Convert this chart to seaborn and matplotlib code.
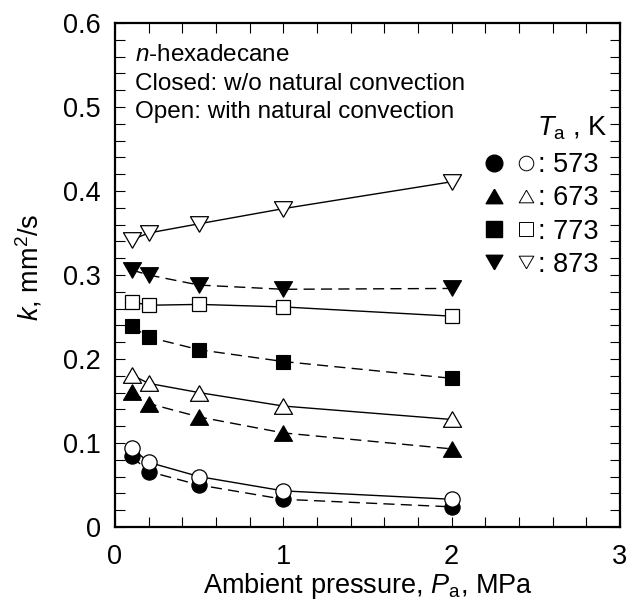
import matplotlib
matplotlib.use("Agg")
import matplotlib.pyplot as plt
import numpy as np
import pandas as pd
import seaborn as sns
from matplotlib.lines import Line2D
from matplotlib.legend_handler import HandlerTuple
from matplotlib.ticker import MultipleLocator

# ---- data ----
pressure = [0.1, 0.2, 0.5, 1.0, 2.0]          # MPa
temperatures = [573, 673, 773, 873]           # K
closed_573 = [0.084, 0.066, 0.050, 0.033, 0.024]
open_573 = [0.094, 0.077, 0.060, 0.043, 0.033]
closed_673 = [0.161, 0.147, 0.131, 0.112, 0.093]
open_673 = [0.181, 0.171, 0.160, 0.144, 0.128]
closed_773 = [0.239, 0.226, 0.211, 0.197, 0.177]
open_773 = [0.268, 0.264, 0.265, 0.262, 0.251]
closed_873 = [0.306, 0.300, 0.288, 0.283, 0.284]
open_873 = [0.342, 0.350, 0.361, 0.379, 0.411]

closed_series = [closed_573, closed_673, closed_773, closed_873]
open_series = [open_573, open_673, open_773, open_873]

x_ticks = [0, 1, 2, 3]
x_tick_labels = ["0", "1", "2", "3"]
y_ticks = [0, 0.1, 0.2, 0.3, 0.4, 0.5, 0.6]
y_tick_labels = ["0", "0.1", "0.2", "0.3", "0.4", "0.5", "0.6"]

rows = []
for T, yc, yo in zip(temperatures, closed_series, open_series):
    for p, a, b in zip(pressure, yc, yo):
        rows.append({"P": p, "k": a, "T": T, "cond": "closed"})
        rows.append({"P": p, "k": b, "T": T, "cond": "open"})
df = pd.DataFrame(rows)

# ---- style ----
sns.set_style("ticks")
plt.rcParams["font.family"] = ["Liberation Sans", "DejaVu Sans"]
plt.rcParams["mathtext.fontset"] = "custom"
plt.rcParams["mathtext.rm"] = "Liberation Sans"
plt.rcParams["mathtext.it"] = "Liberation Sans:italic"
plt.rcParams["mathtext.bf"] = "Liberation Sans:bold"
for key in ["text.color", "axes.labelcolor", "xtick.color", "ytick.color", "axes.edgecolor"]:
    plt.rcParams[key] = "black"

FS = 19.5

tri_up = [(0, 0.433), (-0.5, -0.433), (0.5, -0.433), (0, 0.433)]
tri_dn = [(0, -0.433), (-0.5, 0.433), (0.5, 0.433), (0, -0.433)]
markers = {573: "o", 673: tri_up, 773: "s", 873: tri_dn}
msizes = {573: 11, 673: 13, 773: 10.3, 873: 13}

fig = plt.figure(figsize=(6.37, 6.04), dpi=100)
ax = fig.add_axes([115 / 637, 77 / 604, 505 / 637, 504 / 604])

# lines
for T in temperatures:
    sub_c = df[(df["T"] == T) & (df["cond"] == "closed")]
    sub_o = df[(df["T"] == T) & (df["cond"] == "open")]
    sns.lineplot(data=sub_c, x="P", y="k", ax=ax, color="black", lw=1.0,
                 linestyle=(0, (8, 4.5)), zorder=2, legend=False)
    sns.lineplot(data=sub_o, x="P", y="k", ax=ax, color="black", lw=1.0,
                 zorder=2, legend=False)

# markers: filled (closed) below, open on top
for T in temperatures:
    sub_c = df[(df["T"] == T) & (df["cond"] == "closed")]
    sns.lineplot(data=sub_c, x="P", y="k", ax=ax, linestyle="", marker=markers[T],
                 markersize=msizes[T], markerfacecolor="black", markeredgecolor="black",
                 markeredgewidth=0.8, zorder=3, legend=False)
for T in temperatures:
    sub_o = df[(df["T"] == T) & (df["cond"] == "open")]
    sns.lineplot(data=sub_o, x="P", y="k", ax=ax, linestyle="", marker=markers[T],
                 markersize=msizes[T], markerfacecolor="white", markeredgecolor="black",
                 markeredgewidth=0.9, zorder=4, legend=False)

# axes
ax.set_xlim(0, 3)
ax.set_ylim(0, 0.6)
ax.set_xticks(x_ticks)
ax.set_xticklabels(x_tick_labels)
ax.set_yticks(y_ticks)
ax.set_yticklabels(y_tick_labels)
ax.xaxis.set_minor_locator(MultipleLocator(0.2))
ax.yaxis.set_minor_locator(MultipleLocator(0.02))
ax.tick_params(which="both", direction="in", top=True, right=True,
               length=7.5, width=0.8, color="black")
ax.tick_params(axis="x", which="major", labelsize=FS, pad=12)
ax.tick_params(axis="y", which="major", labelsize=FS, pad=10)
for s in ax.spines.values():
    s.set_linewidth(1.6)
    s.set_color("black")

ax.set_xlabel(r"Ambient pressure, $P_{\rm a}$, MPa", fontsize=FS)
ax.set_ylabel(r"$k$, mm$^2$/s", fontsize=FS)
ax.xaxis.set_label_coords(0.5, -0.088)
ax.yaxis.set_label_coords(-0.14, 0.516)


def px(xp, yp):
    return ((xp - 115) / 505, (527 - yp) / 504)


# annotation block
for txt, yb in [(r"$n$-hexadecane", 61), ("Closed: w/o natural convection", 89.5),
                ("Open: with natural convection", 118)]:
    ax.text(*px(135, yb), txt, transform=ax.transAxes, fontsize=17.5,
            ha="left", va="baseline")

# legend
handles = []
for T in temperatures:
    fh = Line2D([], [], linestyle="", marker=markers[T], markersize=12,
                markerfacecolor="black", markeredgecolor="black")
    oh = Line2D([], [], linestyle="", marker=markers[T], markersize=10.5,
                markerfacecolor="white", markeredgecolor="black", markeredgewidth=0.7)
    handles.append((fh, oh))
labels = [f": {T}" for T in temperatures]
leg = ax.legend(handles, labels, handler_map={tuple: HandlerTuple(ndivide=None, pad=0.4)},
                loc="upper right", bbox_to_anchor=px(599, 152), frameon=False,
                fontsize=FS, handlelength=1.9, handletextpad=0.1, labelspacing=0.27,
                borderaxespad=0, borderpad=0)
ax.text(*px(607, 128), r"$T_{\rm a}$ , K", transform=ax.transAxes, fontsize=FS,
        ha="right", va="center")

fig.savefig("out.png", dpi=100)
